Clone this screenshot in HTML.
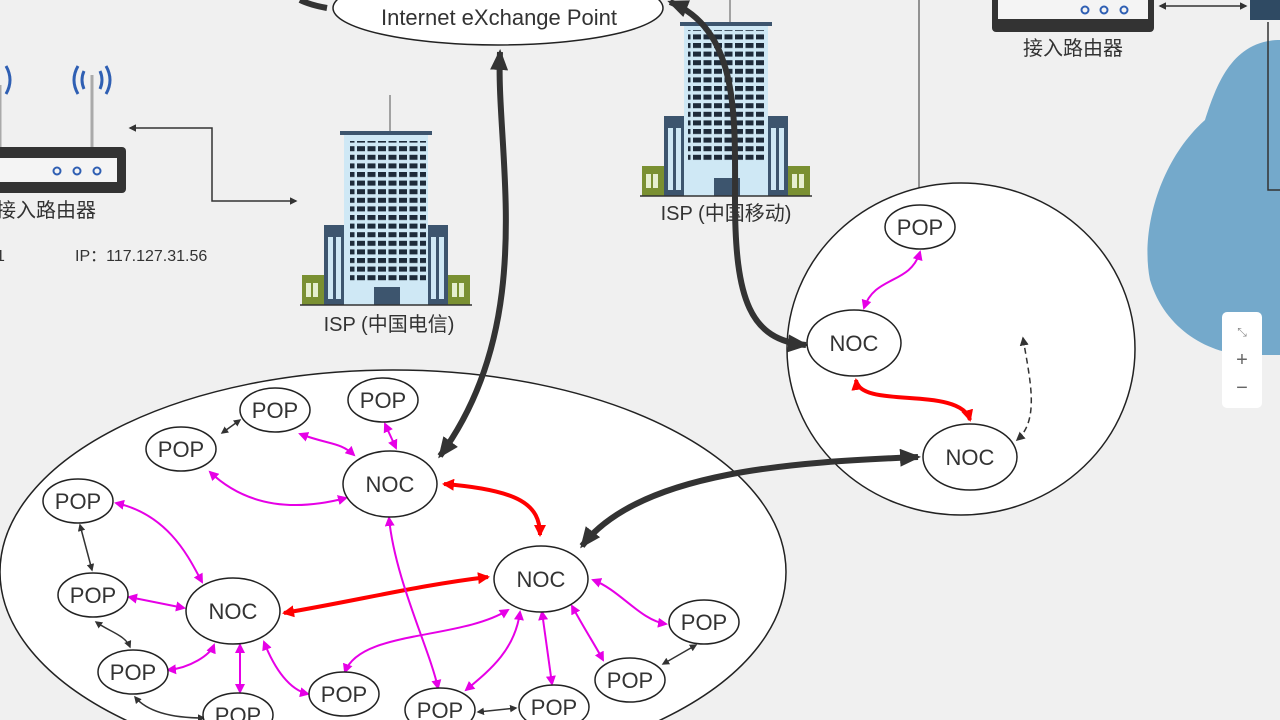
<!DOCTYPE html>
<html><head><meta charset="utf-8"><style>
html,body{margin:0;padding:0;background:#f0f0f0;overflow:hidden;width:1280px;height:720px;}
svg{display:block;font-family:"Liberation Sans","Noto Sans CJK SC",sans-serif;}
</style></head><body>
<svg width="1280" height="720" viewBox="0 0 1280 720" xmlns="http://www.w3.org/2000/svg">
<defs>
<marker id="ab" markerWidth="6" markerHeight="6" refX="5" refY="3" orient="auto-start-reverse" markerUnits="strokeWidth"><path d="M0,0 L6,3 L0,6 Z" fill="#333"/></marker>
<marker id="abk" markerWidth="5" markerHeight="5" refX="4" refY="2.5" orient="auto-start-reverse" markerUnits="strokeWidth"><path d="M0,0 L5,2.5 L0,5 Z" fill="#333"/></marker>
<marker id="am" markerWidth="5" markerHeight="5" refX="4" refY="2.5" orient="auto-start-reverse" markerUnits="strokeWidth"><path d="M0,0 L5,2.5 L0,5 Z" fill="#e600e6"/></marker>
<marker id="ar" markerWidth="3" markerHeight="3" refX="2.5" refY="1.5" orient="auto-start-reverse" markerUnits="strokeWidth"><path d="M0,0 L3,1.5 L0,3 Z" fill="#f00"/></marker>
<marker id="at" markerWidth="3.5" markerHeight="3" refX="3" refY="1.5" orient="auto-start-reverse" markerUnits="strokeWidth"><path d="M0,0 L3.5,1.5 L0,3 Z" fill="#333"/></marker>
<g id="bld">
<line x1="90" y1="0" x2="90" y2="36" stroke="#888" stroke-width="1.5"/>
<rect x="40" y="36" width="92" height="4" fill="#3d556e"/>
<rect x="44" y="40" width="84" height="170" fill="#cfe8f5"/>
<rect x="24" y="130" width="20" height="80" fill="#3d556e"/>
<rect x="128" y="130" width="20" height="80" fill="#3d556e"/>
<rect x="28" y="142" width="5" height="62" fill="#cfe8f5"/><rect x="36" y="142" width="5" height="62" fill="#cfe8f5"/>
<rect x="131" y="142" width="5" height="62" fill="#cfe8f5"/><rect x="139" y="142" width="5" height="62" fill="#cfe8f5"/>
<rect x="2" y="180" width="22" height="30" fill="#7a9032"/>
<rect x="148" y="180" width="22" height="30" fill="#7a9032"/>
<rect x="6" y="188" width="5" height="14" fill="#e6efd0"/><rect x="13" y="188" width="5" height="14" fill="#e6efd0"/>
<rect x="152" y="188" width="5" height="14" fill="#e6efd0"/><rect x="159" y="188" width="5" height="14" fill="#e6efd0"/>
<rect x="74" y="192" width="26" height="18" fill="#3d556e"/>
<line x1="0" y1="210" x2="172" y2="210" stroke="#333" stroke-width="1.5"/>
</g>
<pattern id="win" x="0" y="0" width="10.5" height="8.6" patternUnits="userSpaceOnUse"><rect x="0" y="0" width="8" height="5" fill="#1e2b3a"/></pattern>
</defs>

<!-- blue cloud -->
<path d="M1280,40 C1230,40 1215,90 1205,120 C1160,160 1140,230 1150,280 C1165,330 1210,355 1250,355 L1280,355 Z" fill="#74a9cb"/>
<rect x="1222" y="312" width="40" height="96" rx="5" fill="#fff"/>
<text x="1242" y="336" font-size="12" fill="#888" text-anchor="middle">⤡</text>
<text x="1242" y="366" font-size="20" fill="#666" text-anchor="middle">+</text>
<text x="1242" y="394" font-size="20" fill="#666" text-anchor="middle">−</text>
<rect x="1250" y="0" width="30" height="20" fill="#2f4a63"/>
<path d="M1268,22 V190 H1280" fill="none" stroke="#333" stroke-width="1.5"/>

<!-- IXP -->
<ellipse cx="498" cy="8" rx="165" ry="37" fill="#fff" stroke="#222" stroke-width="1.5"/>
<text x="499" y="25" font-size="22" fill="#333" text-anchor="middle">Internet eXchange Point</text>

<!-- buildings -->
<use href="#bld" x="300" y="95"/>
<rect x="350" y="141" width="76" height="140" fill="url(#win)"/>
<use href="#bld" x="640" y="-14"/>
<rect x="688" y="30" width="76" height="132" fill="url(#win)"/>
<text x="389" y="331" font-size="20" fill="#333" text-anchor="middle">ISP (中国电信)</text>
<text x="726" y="220" font-size="20" fill="#333" text-anchor="middle">ISP (中国移动)</text>

<!-- left router -->
<line x1="92" y1="75" x2="92" y2="148" stroke="#aaa" stroke-width="3"/>
<line x1="0" y1="85" x2="0" y2="148" stroke="#aaa" stroke-width="3"/>
<path d="M78,66 Q70,80 78,94 M84,71 Q80,80 84,89 M106,66 Q114,80 106,94 M100,71 Q104,80 100,89" stroke="#2f5fb3" stroke-width="3" fill="none"/>
<path d="M6,66 Q14,80 6,94" stroke="#2f5fb3" stroke-width="3" fill="none"/>
<rect x="-10" y="147" width="136" height="46" rx="4" fill="#333"/>
<rect x="-5" y="158" width="122" height="24" fill="#f4f4f4"/>
<circle cx="57" cy="171" r="3.5" fill="none" stroke="#2f5fb3" stroke-width="2"/>
<circle cx="77" cy="171" r="3.5" fill="none" stroke="#2f5fb3" stroke-width="2"/>
<circle cx="97" cy="171" r="3.5" fill="none" stroke="#2f5fb3" stroke-width="2"/>
<text x="-4" y="217" font-size="20" fill="#333">接入路由器</text>
<text x="-4" y="261" font-size="16" fill="#333">1</text>
<text x="75" y="261" font-size="16" fill="#333">IP：117.127.31.56</text>
<path d="M130,128 H212 V201 H296" fill="none" stroke="#333" stroke-width="1.5" marker-start="url(#abk)" marker-end="url(#abk)"/>

<!-- top-right router -->
<rect x="992" y="-10" width="162" height="42" rx="4" fill="#333"/>
<rect x="998" y="-6" width="150" height="25" fill="#f4f4f4"/>
<circle cx="1085" cy="10" r="3.5" fill="none" stroke="#2f5fb3" stroke-width="2"/>
<circle cx="1104" cy="10" r="3.5" fill="none" stroke="#2f5fb3" stroke-width="2"/>
<circle cx="1124" cy="10" r="3.5" fill="none" stroke="#2f5fb3" stroke-width="2"/>
<text x="1073" y="55" font-size="20" fill="#333" text-anchor="middle">接入路由器</text>
<line x1="1160" y1="6" x2="1246" y2="6" stroke="#333" stroke-width="1.5" marker-start="url(#abk)" marker-end="url(#abk)"/>
<line x1="919" y1="0" x2="919" y2="198" stroke="#333" stroke-width="1" marker-end="url(#ab)"/>

<!-- big ellipse -->
<ellipse cx="393" cy="572" rx="393" ry="202" fill="#fff" stroke="#222" stroke-width="1.5"/>
<!-- right circle -->
<ellipse cx="961" cy="349" rx="174" ry="166" fill="#fff" stroke="#222" stroke-width="1.5"/>

<!-- thick black -->
<path d="M327,8 Q310,5 300,0" fill="none" stroke="#333" stroke-width="6"/>
<path d="M500,52 C495,150 540,320 440,456" fill="none" stroke="#333" stroke-width="6" marker-start="url(#at)" marker-end="url(#at)"/>
<path d="M670,2 C740,30 735,120 735,200 C735,300 750,340 806,345" fill="none" stroke="#333" stroke-width="6" marker-start="url(#at)" marker-end="url(#at)"/>
<path d="M582,546 C640,470 800,462 918,457" fill="none" stroke="#333" stroke-width="6" marker-start="url(#at)" marker-end="url(#at)"/>
<!-- red -->
<path d="M444,484 C520,490 540,505 540,535" fill="none" stroke="#f00" stroke-width="4" marker-start="url(#ar)" marker-end="url(#ar)"/>
<path d="M284,613 C360,600 420,585 488,577" fill="none" stroke="#f00" stroke-width="4" marker-start="url(#ar)" marker-end="url(#ar)"/>
<path d="M856,380 C860,410 960,385 970,420" fill="none" stroke="#f00" stroke-width="4" marker-start="url(#ar)" marker-end="url(#ar)"/>
<path d="M1023,338 C1030,380 1040,420 1017,440" fill="none" stroke="#333" stroke-width="1.5" stroke-dasharray="6,4" marker-start="url(#ab)" marker-end="url(#ab)"/>
<!-- magenta -->
<g fill="none" stroke="#e600e6" stroke-width="2" marker-start="url(#am)" marker-end="url(#am)">
<path d="M920,252 C910,285 875,275 864,308"/>
<path d="M300,434 C330,445 340,442 354,455"/>
<path d="M385,424 L396,448"/>
<path d="M210,472 C250,510 300,510 346,498"/>
<path d="M116,503 C170,515 190,560 202,582"/>
<path d="M129,597 L184,608"/>
<path d="M168,670 C190,668 210,655 214,645"/>
<path d="M240,645 L240,692"/>
<path d="M264,642 C275,670 290,690 308,694"/>
<path d="M389,518 C395,580 430,650 438,688"/>
<path d="M345,672 C360,630 460,640 508,610"/>
<path d="M466,690 C490,670 515,650 520,612"/>
<path d="M542,612 L552,684"/>
<path d="M572,606 C585,630 595,645 603,660"/>
<path d="M593,580 C620,590 640,620 666,624"/>
</g>
<g fill="none" stroke="#333" stroke-width="1.5" marker-start="url(#abk)" marker-end="url(#abk)">
<path d="M222,433 L240,420"/>
<path d="M80,525 L92,570"/>
<path d="M96,622 C110,632 125,635 130,647"/>
<path d="M135,697 C150,715 180,718 204,718"/>
<path d="M478,712 L516,708"/>
<path d="M663,664 L696,645"/>
</g>

<!-- nodes -->
<g fill="#fff" stroke="#222" stroke-width="1.5">
<ellipse cx="390" cy="484" rx="47" ry="33"/>
<ellipse cx="541" cy="579" rx="47" ry="33"/>
<ellipse cx="233" cy="611" rx="47" ry="33"/>
<ellipse cx="854" cy="343" rx="47" ry="33"/>
<ellipse cx="970" cy="457" rx="47" ry="33"/>
<ellipse cx="275" cy="410" rx="35" ry="22"/>
<ellipse cx="383" cy="400" rx="35" ry="22"/>
<ellipse cx="181" cy="449" rx="35" ry="22"/>
<ellipse cx="78" cy="501" rx="35" ry="22"/>
<ellipse cx="93" cy="595" rx="35" ry="22"/>
<ellipse cx="133" cy="672" rx="35" ry="22"/>
<ellipse cx="238" cy="715" rx="35" ry="22"/>
<ellipse cx="344" cy="694" rx="35" ry="22"/>
<ellipse cx="440" cy="710" rx="35" ry="22"/>
<ellipse cx="554" cy="707" rx="35" ry="22"/>
<ellipse cx="630" cy="680" rx="35" ry="22"/>
<ellipse cx="704" cy="622" rx="35" ry="22"/>
<ellipse cx="920" cy="227" rx="35" ry="22"/>
</g>
<g font-size="22" fill="#333" text-anchor="middle">
<text x="390" y="492">NOC</text><text x="541" y="587">NOC</text><text x="233" y="619">NOC</text>
<text x="854" y="351">NOC</text><text x="970" y="465">NOC</text>
<text x="275" y="418">POP</text><text x="383" y="408">POP</text><text x="181" y="457">POP</text>
<text x="78" y="509">POP</text><text x="93" y="603">POP</text><text x="133" y="680">POP</text>
<text x="238" y="723">POP</text><text x="344" y="702">POP</text><text x="440" y="718">POP</text>
<text x="554" y="715">POP</text><text x="630" y="688">POP</text><text x="704" y="630">POP</text>
<text x="920" y="235">POP</text>
</g>
</svg>
</body></html>
